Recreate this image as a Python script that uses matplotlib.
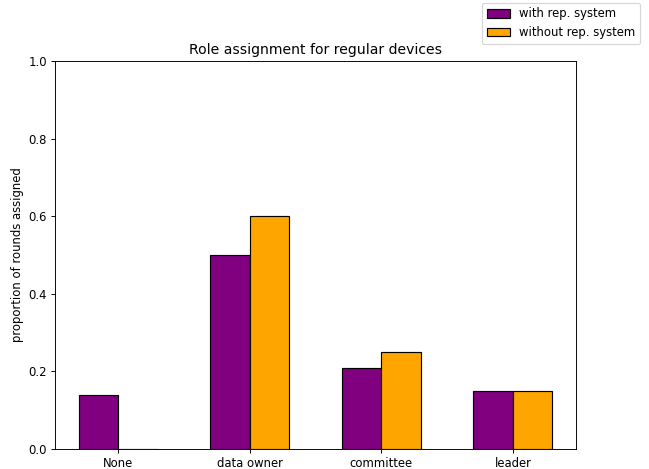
import matplotlib
matplotlib.use("Agg")
import matplotlib.pyplot as plt
import numpy as np

categories = ["None", "data owner", "committee", "leader"]
with_rep = [0.14, 0.50, 0.21, 0.15]
without_rep = [0.0, 0.60, 0.25, 0.15]

DPI = 84
fig = plt.figure(figsize=(649 / DPI, 469 / DPI), dpi=DPI)
ax = fig.add_axes([0.0847, 0.0426, 0.8028, 0.8274])

x = np.arange(len(categories))
width = 0.3
ax.bar(x, with_rep, width=-width, align="edge", color="purple",
       edgecolor="black", label="with rep. system")
ax.bar(x, without_rep, width=width, align="edge", color="orange",
       edgecolor="black", label="without rep. system")

ax.set_xticks(x)
ax.set_xticklabels(categories)
ax.set_ylim(0, 1.0)
ax.set_ylabel("proportion of rounds assigned")
ax.set_title("Role assignment for regular devices")

fig.legend(loc="upper right", bbox_to_anchor=(1 - 3 / 649, 1 + 3 / 469))

fig.savefig("out.png", dpi=DPI)
